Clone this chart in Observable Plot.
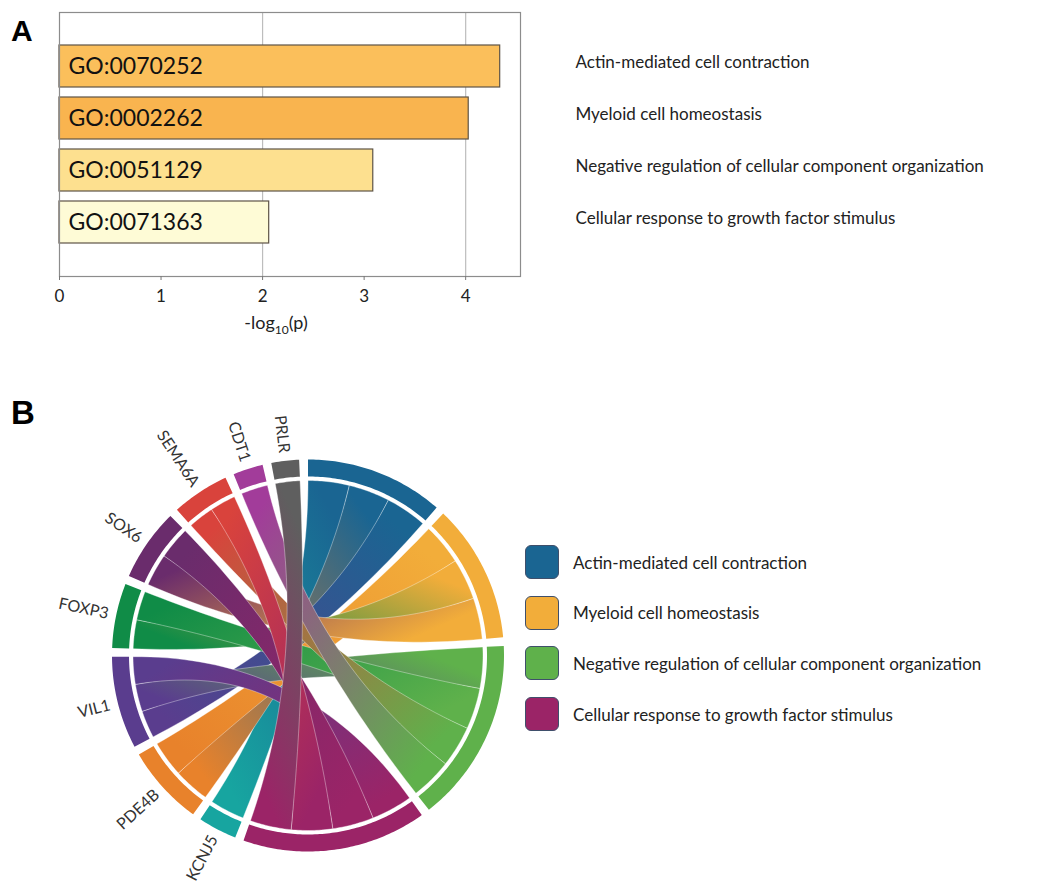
<!DOCTYPE html>
<html>
<head>
<meta charset="utf-8">
<script src="https://cdn.jsdelivr.net/npm/d3@7"></script>
<script src="https://cdn.jsdelivr.net/npm/@observablehq/plot@0.6"></script>
<style>
  html, body { margin: 0; padding: 0; background: #fff; }
  #wrap { position: relative; width: 1048px; height: 883px; overflow: hidden; font-family: Lato, "Open Sans", sans-serif; color: #222; }
  #wrap > * { position: absolute; }
  .panel { font-family: "Liberation Sans", Arial, sans-serif; font-weight: bold; color: #000; }
  .legend-item { display: flex; align-items: center; height: 34px; font-size: 17px; }
  .swatch { width: 32px; height: 32px; border-radius: 6px; border: 1.5px solid #3f4f6b; margin-right: 14px; box-sizing: content-box; }
</style>
</head>
<body>
<div id="wrap"></div>
<script>
// ---------- data ----------
const goIds = ["GO:0070252", "GO:0002262", "GO:0051129", "GO:0071363"];
const goNames = [
  "Actin-mediated cell contraction",
  "Myeloid cell homeostasis",
  "Negative regulation of cellular component organization",
  "Cellular response to growth factor stimulus"
];
const negLogP = [4.34, 4.03, 3.09, 2.065];
const barColors = ["#fbbf5b", "#f9b44f", "#fde08f", "#fefbd6"];
const xTicks = [0, 1, 2, 3, 4];

const termColors = ["#1a6592", "#f2ad3a", "#5fb14b", "#9b2467"];
const genes = ["KCNJ5", "PDE4B", "VIL1", "FOXP3", "SOX6", "SEMA6A", "CDT1", "PRLR"];
const geneColors = ["#17a5a0", "#e8822b", "#5a3d8e", "#108c47", "#6a2c6c", "#d9433c", "#a23c9a", "#5f5f5f"];
const geneWeight = [0.84, 1.74, 2.0, 1.40, 1.57, 1.25, 0.65, 0.60];
// gene -> term memberships
const links = [
  ["KCNJ5", "Actin-mediated cell contraction"],
  ["PDE4B", "Actin-mediated cell contraction"],
  ["PDE4B", "Myeloid cell homeostasis"],
  ["VIL1", "Actin-mediated cell contraction"],
  ["VIL1", "Negative regulation of cellular component organization"],
  ["VIL1", "Cellular response to growth factor stimulus"],
  ["FOXP3", "Myeloid cell homeostasis"],
  ["FOXP3", "Negative regulation of cellular component organization"],
  ["SOX6", "Myeloid cell homeostasis"],
  ["SOX6", "Cellular response to growth factor stimulus"],
  ["SEMA6A", "Negative regulation of cellular component organization"],
  ["SEMA6A", "Cellular response to growth factor stimulus"],
  ["CDT1", "Negative regulation of cellular component organization"],
  ["PRLR", "Cellular response to growth factor stimulus"]
];

const wrap = d3.select("#wrap");

// ---------- Panel A ----------
const bars = goIds.map((id, i) => ({id, name: goNames[i], v: negLogP[i], color: barColors[i]}));
const xMax = 4.54;
const plotA = Plot.plot({
  width: 1048,
  height: 345,
  marginLeft: 59,
  marginRight: 528,
  marginTop: 12,
  marginBottom: 69,
  style: {fontFamily: "Lato, 'Open Sans', sans-serif", fontSize: "17px", color: "#222", background: "transparent"},
  x: {domain: [0, xMax], ticks: xTicks, tickSize: 4, tickPadding: 9, label: null, tickFormat: d3.format("d")},
  y: {domain: goIds, paddingInner: 0.19, paddingOuter: 0.6, axis: null},
  color: {type: "identity"},
  marks: [
    Plot.ruleX([2, 4], {stroke: "#bdbdbd", strokeWidth: 1.2}),
    Plot.barX(bars, {x: "v", y: "id", fill: "color", stroke: "#5e5446", strokeWidth: 1.2}),
    Plot.text(bars, {x: 0, y: "id", text: "id", dx: 9, textAnchor: "start", fontSize: 23, fill: "#111"}),
    Plot.text(bars, {x: xMax, y: "id", text: "name", dx: 55, dy: -4, textAnchor: "start", fontSize: 17, fill: "#222"}),
    Plot.frame({stroke: "#8c8c8c", strokeWidth: 1.2}),
    Plot.axisX({ticks: xTicks, tickSize: 4, tickPadding: 9, tickFormat: d3.format("d"), stroke: "#777"})
  ]
});
d3.select(plotA).style("left", "0px").style("top", "0px").style("position", "absolute");
wrap.node().appendChild(plotA);

wrap.append("div")
  .style("left", "226px").style("top", "311px").style("width", "100px")
  .style("text-align", "center").style("font-size", "18px")
  .html("-log<sub style='font-size:12px'>10</sub>(p)");

// ---------- Panel B (chord) ----------
const terms = goNames;
const gapDeg = 2.6;
const rOut = 196, rIn = 179, rc = 175, rLab = 204;
const totalUnits = links.length + d3.sum(geneWeight);
const unit = (360 - (terms.length + genes.length) * gapDeg) / totalUnits;
const rad = d => d * Math.PI / 180;
const pt = (r, deg) => ({x: r * Math.sin(rad(deg)), y: r * Math.cos(rad(deg))});

const sectors = [];
let a = 0;
terms.forEach((t, i) => {
  const n = links.filter(l => l[1] === t).length;
  sectors.push({name: t, kind: "term", idx: i, start: a, end: a + n * unit, color: termColors[i]});
  a += n * unit + gapDeg;
});
genes.forEach((g, i) => {
  const w = geneWeight[i] * unit;
  sectors.push({name: g, kind: "gene", idx: i, start: a, end: a + w, color: geneColors[i]});
  a += w + gapDeg;
});
const sec = name => sectors.find(s => s.name === name);

function arcPts(r, a0, a1) {
  const n = Math.max(2, Math.ceil(Math.abs(a1 - a0) / 0.8));
  return d3.range(n + 1).map(k => pt(r, a0 + (a1 - a0) * k / n));
}
function bez(p0, p2) {
  return d3.range(1, 40).map(k => {
    const t = k / 40;
    return {x: (1 - t) * (1 - t) * p0.x + t * t * p2.x, y: (1 - t) * (1 - t) * p0.y + t * t * p2.y};
  });
}

// term-side positions: links sorted by gene order, clockwise
const linkGeo = links.map(([g, t]) => ({g, t, gi: genes.indexOf(g), ti: terms.indexOf(t)}));
terms.forEach(t => {
  const s = sec(t);
  linkGeo.filter(l => l.t === t).sort((p, q) => p.gi - q.gi).forEach((l, k) => {
    l.t1 = s.start + k * unit; l.t2 = l.t1 + unit;
  });
});
genes.forEach(g => {
  const s = sec(g);
  const ls = linkGeo.filter(l => l.g === g).sort((p, q) => p.ti - q.ti);
  const w = (s.end - s.start) / ls.length;
  ls.forEach((l, k) => { l.g1 = s.start + k * w; l.g2 = l.g1 + w; });
});

const sectorPolys = sectors.map(s => ({
  color: s.color,
  poly: [...arcPts(rOut, s.start, s.end), ...arcPts(rIn, s.end, s.start)]
}));

const defs = wrap.append("svg").attr("width", 0).attr("height", 0).style("left", "0px").style("top", "0px").append("defs");
const ribbons = linkGeo.map((l, i) => {
  const poly = [
    ...arcPts(rc, l.g1, l.g2),
    ...bez(pt(rc, l.g2), pt(rc, l.t1)),
    ...arcPts(rc, l.t1, l.t2),
    ...bez(pt(rc, l.t2), pt(rc, l.g1))
  ];
  poly.push(poly[0]);
  const xs = poly.map(p => p.x), ys = poly.map(p => p.y);
  const x0 = d3.min(xs), x1 = d3.max(xs), y0 = d3.min(ys), y1 = d3.max(ys);
  const pg = pt(rc, (l.g1 + l.g2) / 2), ptm = pt(rc, (l.t1 + l.t2) / 2);
  const lg = defs.append("linearGradient").attr("id", "rg" + i)
    .attr("x1", (pg.x - x0) / (x1 - x0)).attr("y1", (y1 - pg.y) / (y1 - y0))
    .attr("x2", (ptm.x - x0) / (x1 - x0)).attr("y2", (y1 - ptm.y) / (y1 - y0));
  lg.append("stop").attr("offset", 0.05).attr("stop-color", geneColors[l.gi]);
  lg.append("stop").attr("offset", 0.95).attr("stop-color", termColors[l.ti]);
  return {poly, fill: `url(#rg${i})`};
});

const geneLabels = sectors.filter(s => s.kind === "gene").map(s => {
  const m = (s.start + s.end) / 2;
  const p = pt(rLab, m);
  const rot = Math.atan2(Math.cos(rad(m)), -Math.sin(rad(m))) * 180 / Math.PI;
  return {name: s.name, x: p.x, y: p.y, rot};
});

const plotB = Plot.plot({
  width: 520,
  height: 513,
  margin: 0,
  style: {background: "transparent"},
  x: {domain: [-307.5, 212.5], axis: null},
  y: {domain: [-228, 285], axis: null},
  marks: [
    ...sectorPolys.map(s => Plot.line(s.poly, {x: "x", y: "y", fill: s.color, stroke: "none"})),
    ...ribbons.map(r => Plot.line(r.poly, {x: "x", y: "y", fill: r.fill, stroke: "white", strokeOpacity: 0.45, strokeWidth: 0.8})),
    Plot.text(geneLabels, {x: "x", y: "y", text: "name", rotate: "rot", textAnchor: "end", fontSize: 16, fill: "#333", fontFamily: "Lato, 'Open Sans', sans-serif"})
  ]
});
d3.select(plotB).style("left", "0px").style("top", "370px").style("position", "absolute");
wrap.node().appendChild(plotB);

// legend
const legend = wrap.append("div").style("left", "525px").style("top", "545px");
terms.forEach((t, i) => {
  const item = legend.append("div").attr("class", "legend-item").style("margin-bottom", i < terms.length - 1 ? "16.7px" : "0");
  item.append("div").attr("class", "swatch").style("background", termColors[i]);
  item.append("span").text(t);
});

// panel letters
wrap.append("div").attr("class", "panel").style("left", "11px").style("top", "14px").style("font-size", "30px").text("A");
wrap.append("div").attr("class", "panel").style("left", "11px").style("top", "394px").style("font-size", "33px").text("B");
</script>
</body>
</html>
